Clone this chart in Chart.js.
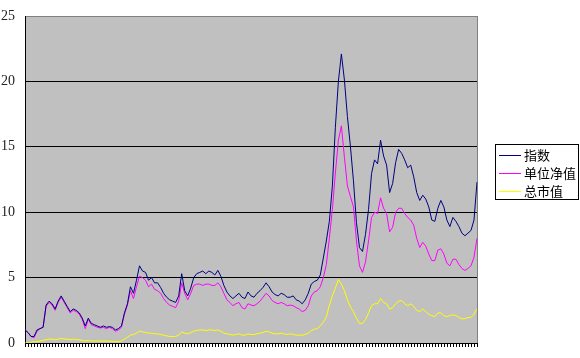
<!DOCTYPE html>
<html>
<head>
<meta charset="utf-8">
<script src="https://cdn.jsdelivr.net/npm/chart.js@4/dist/chart.umd.min.js"></script>
<style>
  html, body { margin: 0; padding: 0; background: #fff; }
  #wrap { width: 580px; height: 358px; }
</style>
</head>
<body>
<div id="wrap"><canvas id="fundChart"></canvas></div>
<script>
// series, one value per period
const indexValues = [
  1.0, 0.8, 0.5, 0.5, 1.0, 1.1, 1.2, 2.9, 3.2, 3.0,
  2.6, 3.2, 3.6, 3.2, 2.8, 2.4, 2.6, 2.5, 2.3, 1.9,
  1.3, 1.9, 1.5, 1.4, 1.3, 1.2, 1.3, 1.2, 1.25, 1.2,
  1.0, 1.1, 1.3, 2.3, 3.0, 4.3, 3.8, 4.8, 5.9, 5.5,
  5.4, 4.8, 5.0, 4.6, 4.6, 4.25, 3.8, 3.5, 3.3, 3.2,
  3.1, 3.6, 5.3, 4.0, 3.6, 4.2, 5.0, 5.3, 5.4, 5.5,
  5.3, 5.5, 5.4, 5.2, 5.55, 5.1, 4.4, 3.9, 3.6, 3.4,
  3.6, 3.8, 3.5, 3.4, 3.9, 3.6, 3.5, 3.8, 4.0, 4.25,
  4.6, 4.3, 3.9, 3.7, 3.6, 3.8, 3.7, 3.5, 3.5, 3.6,
  3.3, 3.2, 3.0, 3.3, 3.8, 4.5, 4.7, 4.8, 5.2, 6.5,
  7.8, 9.3, 12.0, 16.5, 20.0, 22.1, 20.1, 17.3, 15.0, 12.4,
  9.2, 7.3, 7.0, 8.3, 10.2, 12.95, 14.0, 13.7, 15.5, 14.3,
  13.6, 11.5, 12.2, 13.8, 14.8, 14.5, 14.0, 13.4, 13.6, 12.7,
  11.5, 10.9, 11.3, 11.0, 10.4, 9.4, 9.3, 10.3, 10.9, 10.4,
  9.4, 8.9, 9.6, 9.3, 8.9, 8.4, 8.2, 8.4, 8.6, 9.4,
  12.3
];
const navValues = [
  1.0, 0.8, 0.5, 0.4, 0.9, 1.1, 1.2, 2.8, 3.1, 2.9,
  2.5, 3.1, 3.5, 3.1, 2.7, 2.3, 2.5, 2.4, 2.2, 1.8,
  1.1, 1.8, 1.4, 1.3, 1.2, 1.15, 1.2, 1.1, 1.2, 1.1,
  0.9, 1.0, 1.2, 2.2, 2.9, 4.0, 3.4, 4.3, 5.1, 5.0,
  4.8, 4.3, 4.5, 4.1, 4.0, 3.8, 3.4, 3.1, 2.9, 2.8,
  2.7, 3.2, 4.6, 3.8, 3.3, 3.8, 4.4, 4.5, 4.5, 4.4,
  4.5, 4.5, 4.4, 4.4, 4.6, 4.3, 3.8, 3.3, 3.1, 2.85,
  3.0, 3.1, 2.7, 2.6, 3.0, 2.9, 2.85, 3.0, 3.2, 3.5,
  3.8, 3.6, 3.25, 3.1, 3.0, 3.1, 3.0, 2.85, 2.9, 2.85,
  2.7, 2.6, 2.4, 2.5, 2.85, 3.6, 3.9, 4.0, 4.3, 5.0,
  6.0, 8.0, 10.2, 13.0, 15.5, 16.6, 14.2, 12.0, 11.2, 10.4,
  7.8, 5.9, 5.4, 6.2, 7.8, 9.6, 10.0, 9.9, 11.1, 10.3,
  9.9, 8.5, 8.85, 10.0, 10.3, 10.3, 9.9, 9.6, 9.4, 9.0,
  8.0, 7.3, 7.7, 7.4, 6.8, 6.3, 6.3, 7.1, 7.2, 6.8,
  6.1, 5.9, 6.4, 6.4, 6.0, 5.7, 5.55, 5.7, 5.9, 6.55,
  8.0
];
const marketCapValues = [
  0.0, 0.0, 0.05, 0.1, 0.1, 0.15, 0.2, 0.25, 0.3, 0.3,
  0.25, 0.3, 0.35, 0.3, 0.3, 0.25, 0.3, 0.25, 0.25, 0.2,
  0.15, 0.2, 0.15, 0.15, 0.15, 0.15, 0.15, 0.15, 0.15, 0.1,
  0.1, 0.1, 0.15, 0.3, 0.45, 0.6, 0.65, 0.75, 0.9, 0.85,
  0.8, 0.75, 0.75, 0.7, 0.7, 0.65, 0.6, 0.55, 0.5, 0.5,
  0.5, 0.6, 0.85, 0.75, 0.7, 0.8, 0.9, 0.95, 1.0, 1.0,
  0.95, 1.0, 1.0, 0.95, 1.0, 0.9, 0.75, 0.7, 0.65, 0.6,
  0.65, 0.7, 0.6, 0.6, 0.7, 0.65, 0.65, 0.7, 0.75, 0.8,
  0.9, 0.85, 0.75, 0.7, 0.7, 0.75, 0.7, 0.65, 0.7, 0.65,
  0.6, 0.6, 0.6, 0.65, 0.75, 0.95, 1.05, 1.1, 1.3, 1.6,
  2.0, 2.9, 3.6, 4.2, 4.85, 4.5, 4.0, 3.3, 2.75, 2.4,
  1.9, 1.5, 1.5, 1.8, 2.3, 2.85, 3.0, 3.0, 3.4, 3.1,
  3.0, 2.6, 2.7, 3.0, 3.2, 3.25, 3.0, 2.85, 3.0, 2.8,
  2.5, 2.4, 2.6, 2.4, 2.2, 2.1, 2.0, 2.3, 2.3, 2.1,
  2.0, 2.1, 2.15, 2.1, 1.95, 1.85, 1.85, 1.95, 1.95, 2.2,
  2.6
];
const seriesNames = ['指数', '单位净值', '总市值'];
const seriesColors = ['#000080', '#ff00ff', '#ffff00'];
const yTicks = [0, 5, 10, 15, 20, 25];

// one category per period, labels are not shown
const periods = indexValues.map((_, i) => String(i + 1));

// grey plot area with thin frame, like the old spreadsheet chart
const plotBackground = {
  id: 'plotBackground',
  beforeDraw(chart) {
    const { ctx, chartArea: a } = chart;
    ctx.save();
    ctx.fillStyle = '#c0c0c0';
    ctx.fillRect(a.left, a.top, a.right - a.left, a.bottom - a.top);
    ctx.strokeStyle = '#808080';
    ctx.lineWidth = 1;
    ctx.beginPath();
    ctx.moveTo(a.right + 0.5, a.top);
    ctx.lineTo(a.right + 0.5, a.bottom);
    ctx.stroke();
    ctx.restore();
  },
  afterDraw(chart) {
    // dense category tick marks under the x axis
    const { ctx, chartArea: a } = chart;
    const xs = chart.scales.x;
    ctx.save();
    ctx.strokeStyle = '#000';
    ctx.lineWidth = 1;
    ctx.beginPath();
    periods.forEach((_, i) => {
      const px = Math.round(xs.getPixelForValue(i)) + 0.5;
      ctx.moveTo(px, a.bottom);
      ctx.lineTo(px, a.bottom + 4);
    });
    ctx.stroke();
    ctx.restore();
  }
};

// boxed legend to the right of the plot
const boxLegend = {
  id: 'boxLegend',
  afterDraw(chart) {
    const ctx = chart.ctx;
    ctx.save();
    ctx.strokeStyle = '#000';
    ctx.lineWidth = 1;
    ctx.strokeRect(495.5, 144.5, 83, 55);
    ctx.font = '13px "Noto Sans CJK SC"';
    ctx.textBaseline = 'middle';
    chart.data.datasets.forEach((ds, i) => {
      const y = 155.5 + i * 18;
      ctx.strokeStyle = ds.borderColor;
      ctx.beginPath();
      ctx.moveTo(499, y);
      ctx.lineTo(521, y);
      ctx.stroke();
      ctx.fillStyle = '#000';
      ctx.fillText(ds.label, 524, y);
    });
    ctx.restore();
  }
};

const series = [indexValues, navValues, marketCapValues];

const ctx = document.getElementById('fundChart').getContext('2d');
const fundChart = new Chart(ctx, {
  type: 'line',
  data: {
    labels: periods,
    datasets: series.map((values, i) => ({
      label: seriesNames[i],
      data: values,
      borderColor: seriesColors[i],
      borderWidth: 1,
      pointRadius: 0,
      tension: 0,
      fill: false
    }))
  },
  options: {
    responsive: true,
    maintainAspectRatio: false,
    animation: false,
    layout: { padding: { top: 16, right: 103, left: 0, bottom: 0 } },
    plugins: {
      legend: { display: false },
      tooltip: { enabled: false }
    },
    scales: {
      x: {
        afterFit: (s) => { s.height = 15; },
        ticks: { display: false },
        grid: { display: false },
        border: { color: '#000' }
      },
      y: {
        min: 0,
        max: 25,
        afterFit: (s) => { s.width = 25; },
        afterBuildTicks: (s) => { s.ticks = yTicks.map(v => ({ value: v })); },
        ticks: {
          padding: 0,
          color: '#222',
          font: { family: 'Liberation Serif', size: 14, lineHeight: 1 }
        },
        grid: {
          drawTicks: true,
          tickLength: 10,
          tickColor: 'rgba(0,0,0,0)',
          color: (c) => (c.tick && c.tick.value === 25 ? '#808080' : '#000')
        },
        border: { color: '#000' }
      }
    }
  },
  plugins: [plotBackground, boxLegend]
});
</script>
</body>
</html>
